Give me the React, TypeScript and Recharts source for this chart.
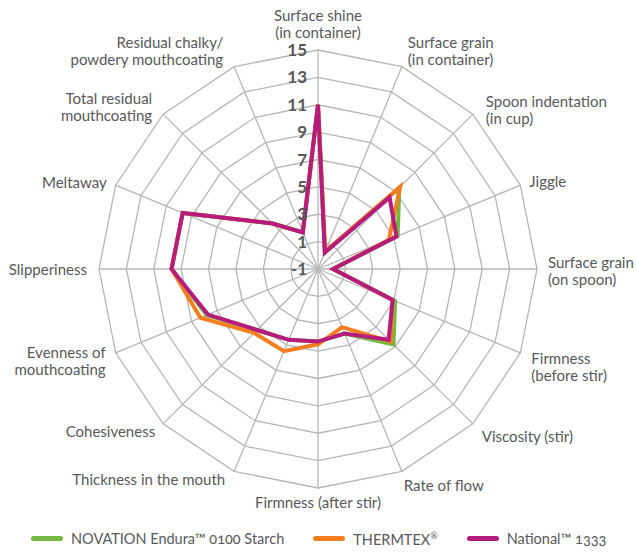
import { Legend, PolarAngleAxis, PolarGrid, PolarRadiusAxis, Radar, RadarChart } from 'recharts';

const attributes = [
    'Surface shine\n(in container)',
    'Surface grain\n(in container)',
    'Spoon indentation\n(in cup)',
    'Jiggle',
    'Surface grain\n(on spoon)',
    'Firmness\n(before stir)',
    'Viscosity (stir)',
    'Rate of flow',
    'Firmness (after stir)',
    'Thickness in the mouth',
    'Cohesiveness',
    'Evenness of\nmouthcoating',
    'Slipperiness',
    'Meltaway',
    'Total residual\nmouthcoating',
    'Residual chalky/\npowdery mouthcoating',
];

const novation = [11, 0.3, 7.4, 5.3, 0.1, 5.1, 6.8, 4.1, 4.3, 4.6, 5.3, 7.8, 9.7, 9.7, 3.7, 1.9];
const thermtex = [11, 0.4, 7.5, 4.6, 0.1, 4.9, 6.5, 3.6, 4.5, 5.5, 5.6, 8.3, 9.7, 9.7, 3.7, 1.9];
const national = [11, 0.3, 6.4, 5.2, 0.1, 4.9, 6.3, 4.1, 4.3, 4.6, 5.3, 7.7, 9.7, 9.7, 3.7, 1.9];

const radiusTicks = [-1, 1, 3, 5, 7, 9, 11, 13, 15];

const data = attributes.map((name, i) => ({
    name,
    novation: novation[i],
    thermtex: thermtex[i],
    national: national[i],
}));

const CX = 318;
const CY = 269;
const R = 219;
const TEXT = '#58595b';
const FONT = 'Lato, sans-serif';

// label placement around the web: anchor, offset of first baseline from the outer vertex
const labelLayout: [string, number, number][] = [
    ['middle', 0, -29],
    ['start', 6, -19],
    ['start', 13, -7],
    ['start', 9, 2],
    ['start', 11, -1],
    ['start', 11, 11],
    ['start', 9, 18],
    ['start', 2, 20],
    ['middle', 0, 20],
    ['end', -9, 14],
    ['end', -8, 13],
    ['end', -10, 5],
    ['end', -12, 6],
    ['end', -9, 3],
    ['end', -11, -10],
    ['end', -11, -19],
];

function AngleTick(props: any) {
    const { payload, index } = props;
    const i = typeof index === 'number' ? index : attributes.indexOf(payload.value);
    const a = ((90 - i * (360 / attributes.length)) * Math.PI) / 180;
    const vx = CX + R * Math.cos(a);
    const vy = CY - R * Math.sin(a);
    const [anchor, dx, dy] = labelLayout[i];
    const lines = String(payload.value).split('\n');
    return (
        <text x={vx + dx} y={vy + dy} textAnchor={anchor as any} fill={TEXT} fontSize={15} fontFamily={FONT}>
            {lines.map((l, k) => (
                <tspan key={k} x={vx + dx} dy={k === 0 ? 0 : 17}>
                    {l}
                </tspan>
            ))}
        </text>
    );
}

function RadiusTick(props: any) {
    const { x, y, payload } = props;
    return (
        <text x={x - 11} y={y + 6} textAnchor="end" fill={TEXT} fontSize={17} fontWeight="bold" fontFamily={FONT}>
            {payload.value}
        </text>
    );
}

const series = [
    { key: 'novation', name: 'NOVATION Endura™ 0100 Starch', color: '#72b843' },
    { key: 'thermtex', name: 'THERMTEX', sup: '®', color: '#f47f21' },
    { key: 'national', name: 'National™ 1333', color: '#b51c7b' },
];

function LegendContent() {
    return (
        <div
            style={{
                display: 'flex',
                alignItems: 'center',
                paddingLeft: 31,
                fontFamily: FONT,
                fontSize: 14.5,
                color: TEXT,
                fontVariantNumeric: 'oldstyle-nums',
            }}
        >
            {series.map((s) => (
                <div key={s.key} style={{ display: 'flex', alignItems: 'center', marginRight: 29 }}>
                    <span
                        style={{ display: 'inline-block', width: 32, height: 5, borderRadius: 3, background: s.color, marginRight: 8 }}
                    />
                    <span>
                        {s.name}
                        {s.sup ? <sup style={{ fontSize: 9 }}>{s.sup}</sup> : null}
                    </span>
                </div>
            ))}
        </div>
    );
}

export default function App() {
    return (
        <div style={{ position: 'absolute', left: 0, top: 0, width: 636, height: 554, background: '#fff' }}>
            <RadarChart
                width={636}
                height={554}
                data={data}
                cx={CX}
                cy={CY}
                outerRadius={R}
                margin={{ top: 0, right: 0, bottom: 0, left: 0 }}
            >
                <PolarGrid gridType="polygon" stroke="#b4b6b8" strokeWidth={1.3} />
                <PolarAngleAxis dataKey="name" tick={<AngleTick />} tickLine={false} axisLine={false} />
                <PolarRadiusAxis
                    angle={90}
                    type="number"
                    domain={[-1, 15]}
                    ticks={radiusTicks}
                    axisLine={false}
                    tickLine={false}
                    tick={<RadiusTick />}
                />
                {series.map((s) => (
                    <Radar
                        key={s.key}
                        dataKey={s.key}
                        name={s.name}
                        stroke={s.color}
                        strokeWidth={4}
                        strokeLinejoin="miter"
                        fill="none"
                        fillOpacity={0}
                        dot={false}
                        isAnimationActive={false}
                    />
                ))}
                <Legend content={<LegendContent />} wrapperStyle={{ left: 0, top: 530, width: 636 }} />
            </RadarChart>
        </div>
    );
}
